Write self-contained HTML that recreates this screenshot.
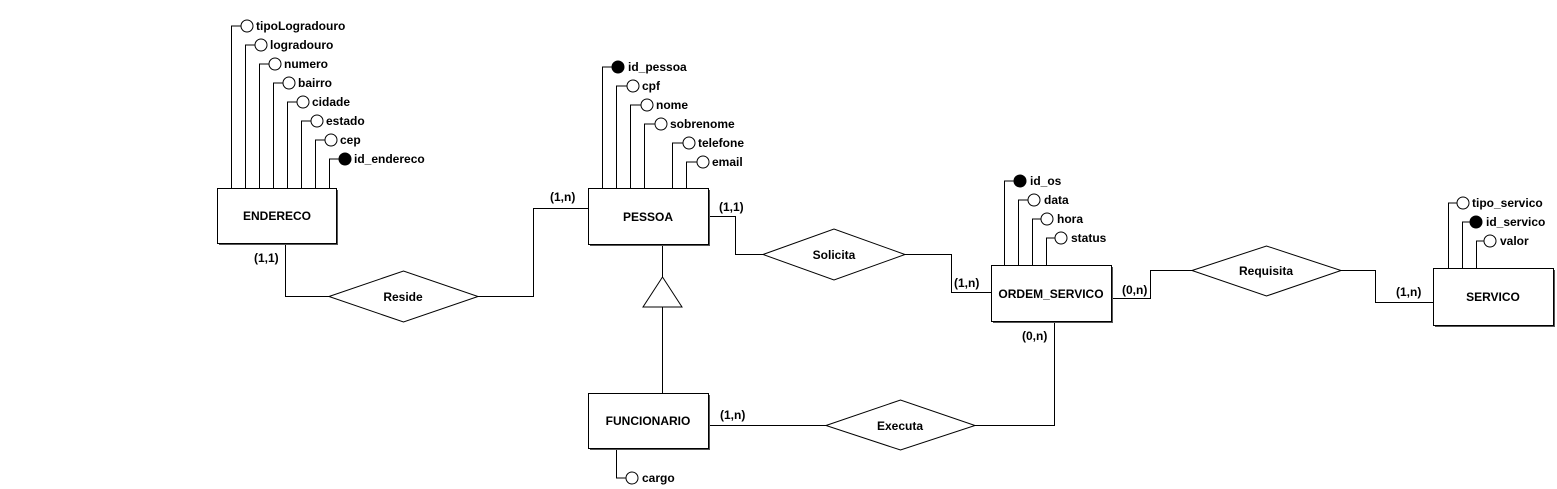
<!DOCTYPE html>
<html><head><meta charset="utf-8"><style>
html,body{margin:0;padding:0;background:#fff;}
svg{display:block;}
text{font-family:"Liberation Sans",Arial,sans-serif;font-weight:bold;font-size:12px;fill:#000;}
</style></head><body>
<svg width="1557" height="489" viewBox="0 0 1557 489" xmlns="http://www.w3.org/2000/svg">
<g fill="none" stroke="#000" stroke-width="1">
<path d="M231.5 188V26H241 M245.5 188V45H255 M259.5 188V64H269 M273.5 188V83H283 M287.5 188V102H297 M301.5 188V121H311 M315.5 188V140H325 M329.5 188V159H339"/>
<path d="M602.5 188V67H612 M616.5 188V86H627 M630.5 188V105H641 M644.5 188V124H655 M672.5 188V143H683 M686.5 188V162H697"/>
<path d="M1004.5 265V181H1014 M1018.5 265V200H1028 M1032.5 265V219H1041 M1046.5 265V238H1055"/>
<path d="M1448.5 268V203H1457 M1462.5 268V222H1470 M1476.5 268V241H1484"/>
<path d="M616.5 448V478H626"/>
<path d="M285.5 243V296.5H329 M478 296.5H533.5V208.5H588"/>
<path d="M708 216.5H735.5V254.5H763 M905 254.5H951.5V292.5H991"/>
<path d="M1111 298.5H1150.5V270.5H1192 M1341 270.5H1375.5V302.5H1433"/>
<path d="M708 425.5H826 M975 425.5H1054.5V321"/>
<path d="M662.5 244V277 M662.5 307V393"/>
<path d="M662.5 277L643 307H682Z"/>
<path d="M329 296.5L403.5 271L478 296.5L403.5 322Z" fill="#fff"/>
<path d="M763 254.5L834 229L905 254.5L834 280Z" fill="#fff"/>
<path d="M1192 270.5L1266.5 246L1341 270.5L1266.5 296Z" fill="#fff"/>
<path d="M826 425.5L900.5 400L975 425.5L900.5 450Z" fill="#fff"/>
</g>
<g fill="#555">
<rect x="219" y="190" width="119" height="55"/>
<rect x="590" y="190" width="120" height="56"/>
<rect x="993" y="267" width="120" height="56"/>
<rect x="1435" y="270" width="120" height="57"/>
<rect x="590" y="395" width="120" height="55"/>
</g>
<g fill="#fff" stroke="#000">
<rect x="217.5" y="188.5" width="119" height="55"/>
<rect x="588.5" y="188.5" width="120" height="56"/>
<rect x="991.5" y="265.5" width="120" height="56"/>
<rect x="1433.5" y="268.5" width="120" height="57"/>
<rect x="588.5" y="393.5" width="120" height="55"/>
</g>
<g stroke="#000" fill="#fff">
<circle cx="247" cy="26" r="6"/><circle cx="261" cy="45" r="6"/><circle cx="275" cy="64" r="6"/><circle cx="289" cy="83" r="6"/><circle cx="303" cy="102" r="6"/><circle cx="317" cy="121" r="6"/><circle cx="331" cy="140" r="6"/><circle cx="345" cy="159" r="6" fill="#000"/>
<circle cx="618" cy="67" r="6" fill="#000"/><circle cx="633" cy="86" r="6"/><circle cx="647" cy="105" r="6"/><circle cx="661" cy="124" r="6"/><circle cx="689" cy="143" r="6"/><circle cx="703" cy="162" r="6"/>
<circle cx="1020" cy="181" r="6" fill="#000"/><circle cx="1034" cy="200" r="6"/><circle cx="1047" cy="219" r="6"/><circle cx="1061" cy="238" r="6"/>
<circle cx="1463" cy="203" r="6"/><circle cx="1476" cy="222" r="6" fill="#000"/><circle cx="1490" cy="241" r="6"/>
<circle cx="632" cy="478" r="6"/>
</g>
<g>
<text x="256" y="30">tipoLogradouro</text>
<text x="270" y="49">logradouro</text>
<text x="284" y="68">numero</text>
<text x="298" y="87">bairro</text>
<text x="312" y="106">cidade</text>
<text x="326" y="125">estado</text>
<text x="340" y="144">cep</text>
<text x="354" y="163">id_endereco</text>
<text x="628" y="71">id_pessoa</text>
<text x="642" y="90">cpf</text>
<text x="656" y="109">nome</text>
<text x="670" y="128">sobrenome</text>
<text x="698" y="147">telefone</text>
<text x="712" y="166">email</text>
<text x="1030" y="185">id_os</text>
<text x="1044" y="204">data</text>
<text x="1057" y="223">hora</text>
<text x="1071" y="242">status</text>
<text x="1472" y="207">tipo_servico</text>
<text x="1486" y="226">id_servico</text>
<text x="1500" y="245">valor</text>
<text x="642" y="482">cargo</text>
</g>
<g text-anchor="middle">
<text x="277" y="220">ENDERECO</text>
<text x="648" y="221">PESSOA</text>
<text x="1051" y="298">ORDEM_SERVICO</text>
<text x="1493" y="301">SERVICO</text>
<text x="648" y="425">FUNCIONARIO</text>
<text x="403" y="301">Reside</text>
<text x="834" y="259">Solicita</text>
<text x="1266" y="275">Requisita</text>
<text x="900" y="430">Executa</text>
</g>
<g font-size="11">
<text x="254" y="262">(1,1)</text>
<text x="550" y="201">(1,n)</text>
<text x="719" y="211">(1,1)</text>
<text x="954" y="287">(1,n)</text>
<text x="1122" y="294">(0,n)</text>
<text x="1022" y="340">(0,n)</text>
<text x="1396" y="296">(1,n)</text>
<text x="720" y="419">(1,n)</text>
</g>
</svg>
</body></html>
